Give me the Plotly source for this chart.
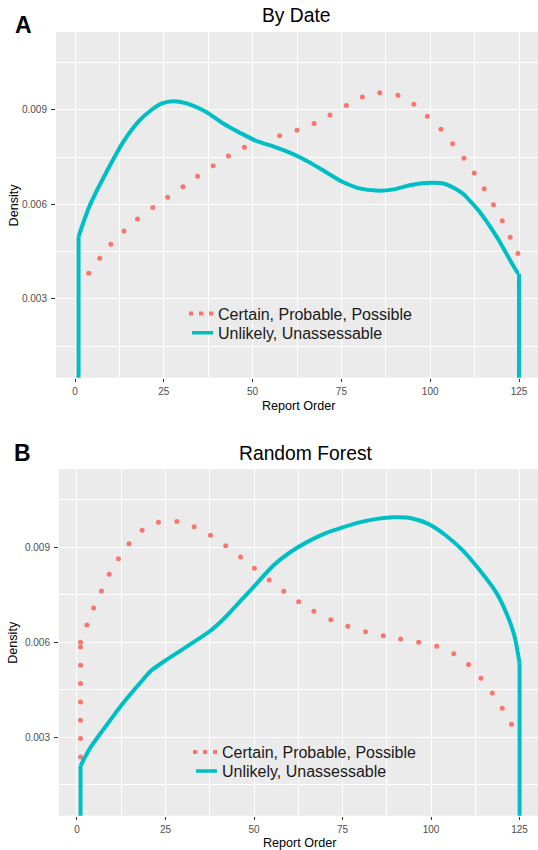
import plotly.graph_objects as go

# ---------------- data ----------------
a_red_x = [3.86, 6.95, 10.1, 13.8, 17.6, 21.9, 26.1, 30.4, 34.5, 38.9, 43.2, 47.7,
           57.6, 62.5, 67.3, 71.8, 76.4, 80.9, 85.8, 90.9, 95.4, 99.2, 103.0, 106.3,
           109.5, 112.4, 115.2, 117.8, 120.3, 122.5, 124.7]
a_red_y = [0.00382, 0.00429, 0.00474, 0.00516, 0.00554, 0.00590, 0.00623, 0.00656,
           0.00690, 0.00723, 0.00754, 0.00782, 0.00818, 0.00836, 0.00857, 0.00884,
           0.00914, 0.00941, 0.00955, 0.00947, 0.00918, 0.00880, 0.00839, 0.00793,
           0.00747, 0.00700, 0.00650, 0.00599, 0.00548, 0.00496, 0.00444]

a_teal_x = [1, 1, 4.2, 8.9, 13.6, 18.1, 21.5, 24.5, 27.6, 31.4, 36.7, 41.6, 46.4,
            51.2, 56.0, 60.8, 65.7, 70.5, 75.3, 80.1, 84.9, 89.8, 94.6, 100.4, 104.2,
            109.0, 111.0, 113.9, 118.7, 124.7, 125, 125]
a_teal_y = [0.0, 0.00498, 0.00598, 0.00704, 0.00799, 0.00866, 0.00900, 0.00921,
            0.00928, 0.00921, 0.00895, 0.00858, 0.00828, 0.00801, 0.00784, 0.00763,
            0.00736, 0.00704, 0.00672, 0.00651, 0.00644, 0.00648, 0.00662, 0.00669,
            0.00665, 0.00636, 0.00614, 0.00577, 0.00498, 0.00382, 0.00380, 0.0]

b_red_x = [1, 1, 1, 1, 1, 1, 1, 1, 2.8, 4.7, 6.9, 9.1, 11.7, 14.7, 18.4, 23.0, 28.2,
           33.1, 37.7, 42.0, 46.2, 50.1, 54.3, 58.4, 62.6, 66.9, 71.7, 76.5, 81.5,
           86.5, 91.4, 96.5, 101.6, 106.4, 110.6, 114.1, 117.3, 120.1, 122.7]
b_red_y = [0.00237, 0.00295, 0.00353, 0.00411, 0.00469, 0.00527, 0.00585, 0.00600,
           0.00654, 0.00708, 0.00762, 0.00815, 0.00864, 0.00911, 0.00954, 0.00979,
           0.00982, 0.00965, 0.00938, 0.00905, 0.00869, 0.00834, 0.00797, 0.00761,
           0.00728, 0.00698, 0.00671, 0.00650, 0.00633, 0.00620, 0.00610, 0.00600,
           0.00587, 0.00563, 0.00529, 0.00486, 0.00439, 0.00391, 0.00340]

b_teal_x = [1, 1, 3.7, 8.4, 13.1, 17.6, 21.0, 24.7, 32.4, 37.7, 41.1, 46.0, 50.8, 55.6,
            60.4, 65.2, 70.1, 75.0, 79.8, 84.7, 89.5, 94.4, 99.2, 104.0, 108.8,
            113.7, 118.5, 121.5, 123.5, 125, 125]
b_teal_y = [0.0, 0.00209, 0.00265, 0.00338, 0.00408, 0.00468, 0.00510, 0.00540,
            0.00596, 0.00636, 0.00670, 0.00728, 0.00786, 0.00844, 0.00886, 0.00918,
            0.00944, 0.00963, 0.00979, 0.00990, 0.00995, 0.00992, 0.00974, 0.00939,
            0.00892, 0.00828, 0.00755, 0.00686, 0.00622, 0.00533, 0.0]

x_ticks = [0, 25, 50, 75, 100, 125]
x_minor = [12.5, 37.5, 62.5, 87.5, 112.5]
y_ticks = [0.003, 0.006, 0.009]
y_tick_text = ["0.003", "0.006", "0.009"]
y_minor = [0.0015, 0.0045, 0.0075, 0.0105]

name_red = "Certain, Probable, Possible"
name_teal = "Unlikely, Unassessable"
RED = "#F8766D"
TEAL = "#00BFC4"
FONT = "Liberation Sans, Arial, sans-serif"

fig = go.Figure()

panels = [
    ("x", "y", ("legend", "legend2"), a_red_x, a_red_y, a_teal_x, a_teal_y),
    ("x2", "y2", ("legend3", "legend4"), b_red_x, b_red_y, b_teal_x, b_teal_y),
]
for xa, ya, lgs, rx, ry, tx, ty in panels:
    fig.add_trace(go.Scatter(x=rx, y=ry, mode="markers", xaxis=xa, yaxis=ya,
                             marker=dict(color=RED, size=5), showlegend=False,
                             hoverinfo="skip"))
    # vertical edges of the density outline
    fig.add_trace(go.Scatter(x=tx[:2], y=ty[:2], mode="lines", xaxis=xa, yaxis=ya,
                             line=dict(color=TEAL, width=4), showlegend=False,
                             hoverinfo="skip"))
    fig.add_trace(go.Scatter(x=tx[-2:], y=ty[-2:], mode="lines", xaxis=xa, yaxis=ya,
                             line=dict(color=TEAL, width=4), showlegend=False,
                             hoverinfo="skip"))
    # smooth density curve
    fig.add_trace(go.Scatter(x=tx[1:-1], y=ty[1:-1], mode="lines", xaxis=xa, yaxis=ya,
                             line=dict(color=TEAL, width=4, shape="spline", smoothing=0.8),
                             showlegend=False, hoverinfo="skip"))
    # legend entries
    fig.add_trace(go.Scatter(x=[None], y=[None], mode="lines", xaxis=xa, yaxis=ya,
                             name=name_red, legend=lgs[0],
                             line=dict(color=RED, width=4,
                                       dash="0px,6px,4px,6px,4px,6px,4px,100px")))
    fig.add_trace(go.Scatter(x=[None], y=[None], mode="lines", xaxis=xa, yaxis=ya,
                             name=name_teal, legend=lgs[1],
                             line=dict(color=TEAL, width=3.5,
                                       dash="0px,9px,21px,100px")))

W, H = 538, 850


def xdom(left):
    return [left / W, 1.0]


def ydom(top, bottom):
    return [1 - bottom / H, 1 - top / H]


common_x = dict(tickvals=x_ticks, ticks="outside", ticklen=3, tickwidth=1,
                tickcolor="#333333", showgrid=True, gridcolor="white", gridwidth=1.2,
                zeroline=False, showline=False, ticklabelstandoff=1,
                tickfont=dict(family=FONT, size=10, color="#4D4D4D"),
                minor=dict(tickvals=x_minor, showgrid=True, gridcolor="white",
                           gridwidth=0.6, ticks=""))
common_y = dict(tickvals=y_ticks, ticktext=y_tick_text, ticks="outside", ticklen=4,
                tickwidth=1, tickcolor="#333333", showgrid=True, gridcolor="white",
                gridwidth=1.2, zeroline=False, showline=False, ticklabelstandoff=2,
                tickfont=dict(family=FONT, size=10, color="#4D4D4D"),
                minor=dict(tickvals=y_minor, showgrid=True, gridcolor="white",
                           gridwidth=0.6, ticks=""))

leg_font = dict(family=FONT, size=16, color="#1a1a1a")


def leg(xpx, row_center):
    return dict(x=xpx / W, y=1 - (row_center - 17.5) / H, xanchor="left", yanchor="top",
                bgcolor="rgba(0,0,0,0)", font=leg_font)


fig.update_layout(
    width=W, height=H,
    margin=dict(l=0, r=0, t=0, b=0),
    paper_bgcolor="white", plot_bgcolor="#EBEBEB",
    font=dict(family=FONT, color="black"),
    xaxis=dict(domain=xdom(56), range=[-5.35, 130.35], anchor="y", **common_x),
    yaxis=dict(domain=ydom(32, 377.7), range=[0.0005, 0.011476], anchor="x", **common_y),
    xaxis2=dict(domain=xdom(59), range=[-5.08, 130.2], anchor="y2", **common_x),
    yaxis2=dict(domain=ydom(469, 815.7), range=[0.000511, 0.011477], anchor="x2", **common_y),
    legend=leg(178, 314),
    legend2=leg(178, 333.3),
    legend3=leg(182, 752.7),
    legend4=leg(182, 771.7),
)

ann = [
    dict(text="By Date", x=297 / W, y=1 - 15 / H, size=19.3),
    dict(text="Random Forest", x=306 / W, y=1 - 453.3 / H, size=19.3),
    dict(text="<b>A</b>", x=23 / W, y=1 - 25 / H, size=23),
    dict(text="<b>B</b>", x=22 / W, y=1 - 453.3 / H, size=23),
    dict(text="Report Order", x=298.5 / W, y=1 - 406 / H, size=12.6),
    dict(text="Report Order", x=300 / W, y=1 - 843.3 / H, size=12.6),
]
for a in ann:
    fig.add_annotation(text=a["text"], x=a["x"], y=a["y"], xref="paper", yref="paper",
                       xanchor="center", yanchor="middle", showarrow=False,
                       font=dict(family=FONT, size=a["size"], color="black"))
for yc in (204.9, 642.3):
    fig.add_annotation(text="Density", x=13.5 / W, y=1 - yc / H, xref="paper", yref="paper",
                       xanchor="center", yanchor="middle", showarrow=False, textangle=-90,
                       font=dict(family=FONT, size=12.6, color="black"))

fig.write_html("out.html",
               config={"displayModeBar": False},
               post_script="document.body.style.margin='0px';"
                           "document.body.style.overflow='hidden';")
